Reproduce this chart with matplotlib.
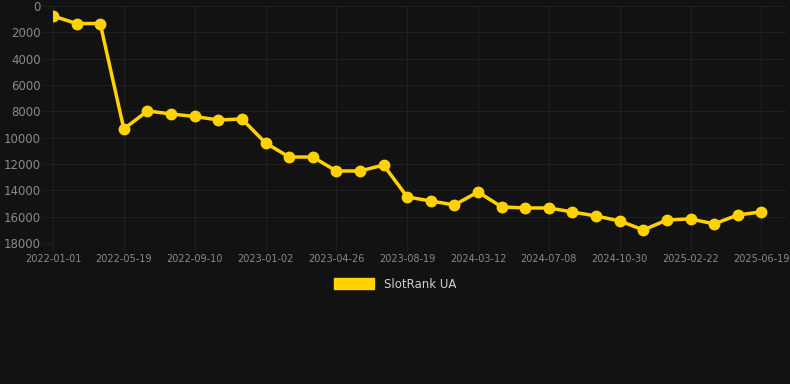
import matplotlib
matplotlib.use("Agg")
import matplotlib.pyplot as plt
from matplotlib.patches import Patch

# dates (category axis, every third one labelled)
dates = ["2022-01-01", "2022-02-15", "2022-04-02", "2022-05-19", "2022-06-30",
         "2022-08-10", "2022-09-10", "2022-10-25", "2022-11-30", "2023-01-02",
         "2023-02-15", "2023-03-20", "2023-04-26", "2023-06-05", "2023-07-10",
         "2023-08-19", "2023-10-20", "2024-01-05", "2024-03-12", "2024-04-20",
         "2024-06-01", "2024-07-08", "2024-08-15", "2024-09-20", "2024-10-30",
         "2024-12-05", "2025-01-15", "2025-02-22", "2025-04-01", "2025-05-10",
         "2025-06-19"]

# rank values
rank = [760, 1330, 1330, 9340, 7970, 8200, 8390, 8660, 8580, 10400,
        11470, 11470, 12530, 12530, 12080, 14500, 14810, 15110, 14120, 15260,
        15340, 15340, 15640, 15950, 16320, 17010, 16250, 16170, 16550, 15870,
        15640]

series_name = "SlotRank UA"

bg = "#121212"
grid_c = "#1f1f1f"
text_c = "#8a8a8a"
line_c = "#FFD200"

fig = plt.figure(figsize=(7.9, 3.84), dpi=100, facecolor=bg)
ax = fig.add_axes([53 / 790, 1 - 243 / 384, (785 - 53) / 790, (243 - 6) / 384])
ax.set_facecolor(bg)

x = list(range(len(dates)))
ax.plot(x, rank, color=line_c, lw=2.5, marker="o", ms=7.5, zorder=3)

ax.set_ylim(18000, 0)
ax.set_xlim(0, 31)
ax.set_yticks(range(0, 18001, 2000))
ax.set_xticks(x[::3])
ax.set_xticklabels(dates[::3])

ax.grid(True, color=grid_c, lw=0.8)
for s in ax.spines.values():
    s.set_visible(False)
ax.tick_params(axis="y", colors=grid_c, labelcolor=text_c, labelsize=8.5, length=8, pad=1)
ax.tick_params(axis="x", colors=grid_c, labelcolor=text_c, labelsize=7, length=6, pad=2)
ax.axhline(18000, color="#2c2c2c", lw=0.8)

leg = fig.legend(handles=[Patch(facecolor=line_c, edgecolor=line_c, label=series_name)],
                 loc="center", bbox_to_anchor=(0.5, 1 - 284 / 384), frameon=False,
                 handlelength=3.4, handleheight=1.0, fontsize=8.5)
for t in leg.get_texts():
    t.set_color("#d0d0d0")

fig.savefig("out.png", dpi=100, facecolor=bg)
